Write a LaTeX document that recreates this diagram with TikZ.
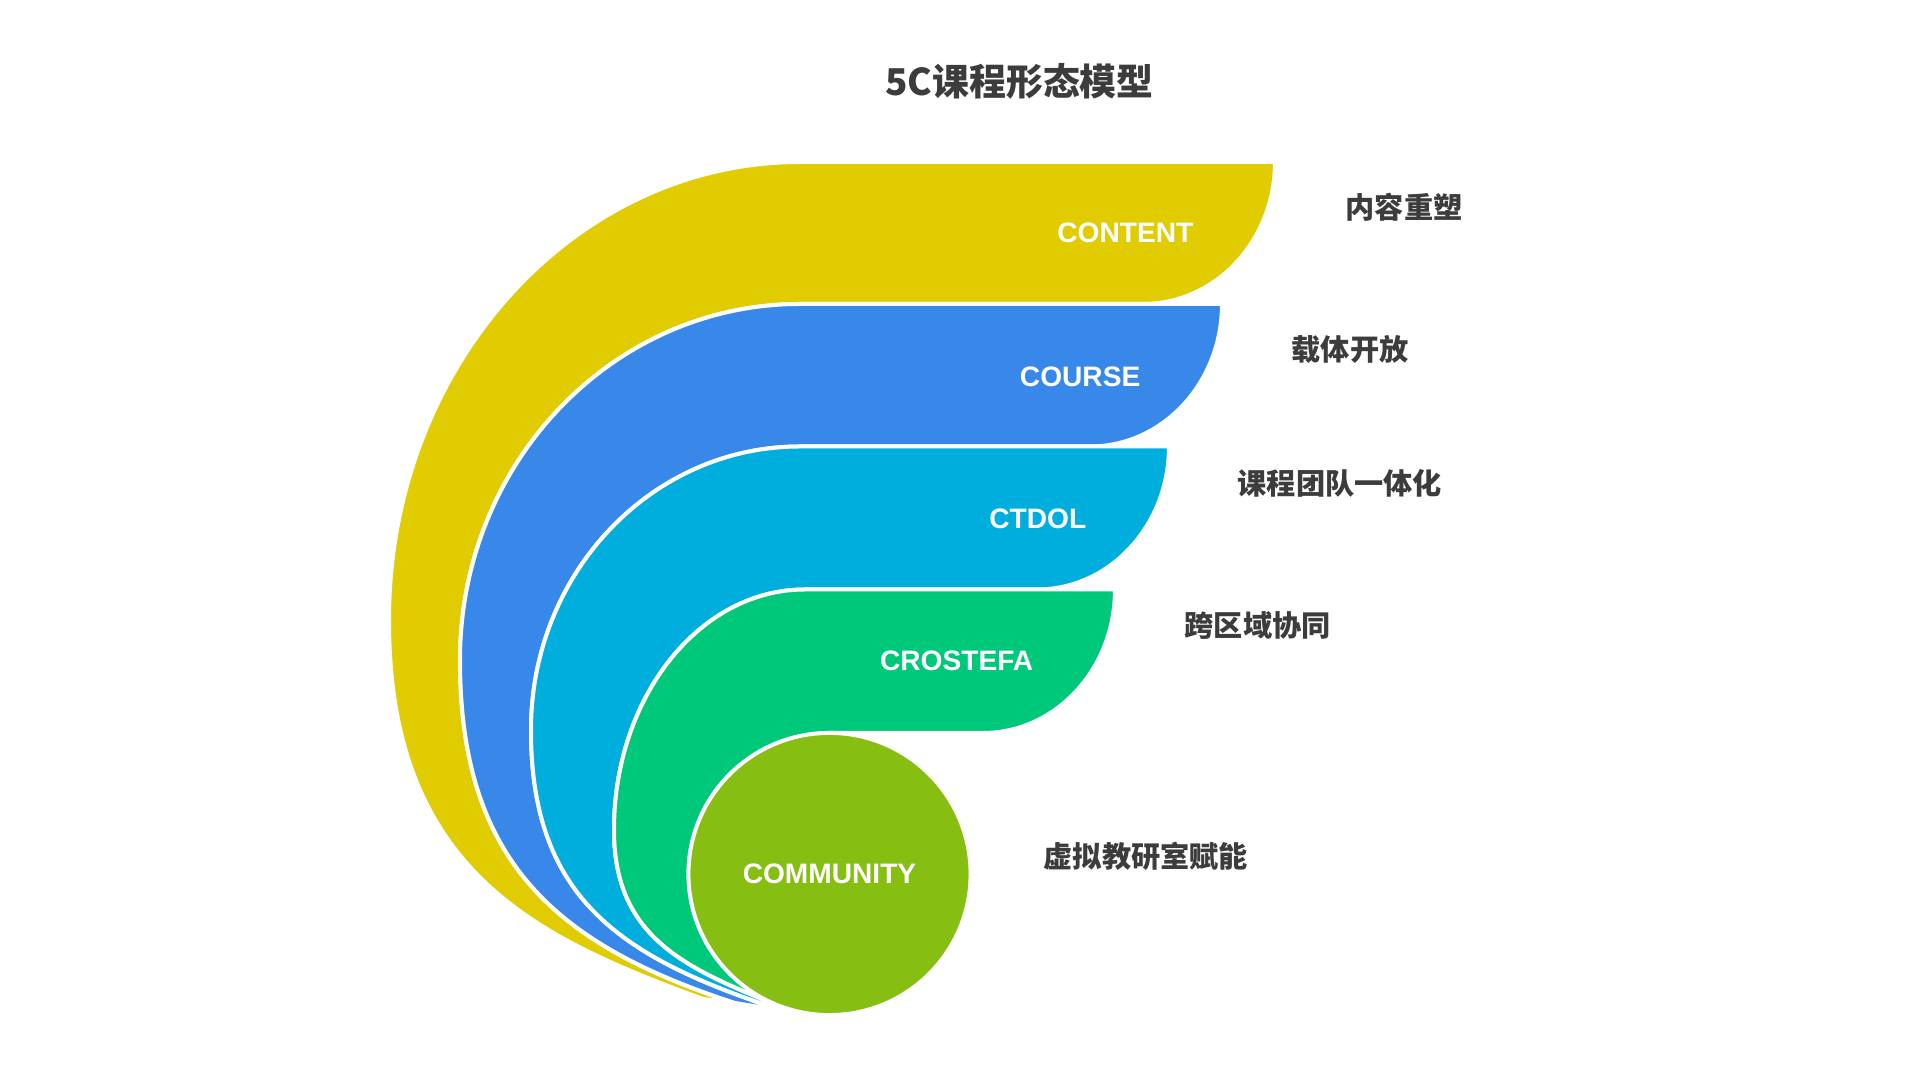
\documentclass[tikz,border=0pt]{standalone}
\usepackage{fontspec}
\setmainfont{Liberation Sans}
\newfontfamily\cjk{Noto Sans CJK SC}

\definecolor{yellowband}{HTML}{E0CC00}
\definecolor{blueband}{HTML}{3888EA}
\definecolor{cyanband}{HTML}{00AEDD}
\definecolor{greenband}{HTML}{00C87A}
\definecolor{oliveband}{HTML}{86BE12}
\definecolor{textgray}{HTML}{3C3C3C}

\begin{document}
\begin{tikzpicture}[x=0.01cm, y=-0.01cm,
    band/.style={draw=white, line width=0.4mm, line join=round},
    tag/.style={text=white, font=\fontsize{8}{9}\selectfont\bfseries, anchor=east, inner sep=0pt},
    desc/.style={text=textgray, font=\cjk\fontsize{8.3}{10}\selectfont\bfseries, anchor=west, inner sep=0pt}]

	\useasboundingbox (0,0) rectangle (1920,1080);

	\node (title) at (1019.5,81.5) [text=textgray, font=\cjk\fontsize{10.5}{12}\selectfont\bfseries] {5C课程形态模型};

	\draw[band, fill=yellowband] (703,999) .. controls (534,937) and (389,870) .. (389,620)
		.. controls (389,367) and (573,162) .. (800,162) -- (1275,162)
		.. controls (1275,240.6) and (1215.9,304) .. (1143,304) -- (800,304)
		.. controls (612.2,304) and (460,463.4) .. (460,660)
		.. controls (460,860) and (554.3,944.3) .. (735,1003) -- cycle;

	\draw[band, fill=blueband] (735,1003) .. controls (554.3,944.3) and (460,860) .. (460,660)
		.. controls (460,463.4) and (612.2,304) .. (800,304) -- (1222,304)
		.. controls (1222,382.7) and (1162.9,446.5) .. (1090,446.5) -- (800,446.5)
		.. controls (651.4,446.5) and (531,573.4) .. (531,730)
		.. controls (531,900) and (622.3,958.5) .. (784,1011) -- cycle;

	\draw[band, fill=cyanband] (784,1011) .. controls (622.3,958.5) and (531,900) .. (531,730)
		.. controls (531,573.4) and (651.4,446.5) .. (800,446.5) -- (1169,446.5)
		.. controls (1169,525.4) and (1109.9,589.5) .. (1037,589.5) -- (805,589.5)
		.. controls (699.5,589.5) and (614,697.2) .. (614,830)
		.. controls (614,940) and (689.3,969.5) .. (782,1007) -- cycle;

	\draw[band, fill=greenband] (782,1007) .. controls (689.3,969.5) and (614,940) .. (614,830)
		.. controls (614,697.2) and (699.5,589.5) .. (805,589.5) -- (1115,589.5)
		.. controls (1115,668.8) and (1055.9,733) .. (983,733) -- (829.5,733) -- (829.5,874) -- cycle;

	\node (community) at (829.5,874) [circle, band, fill=oliveband, minimum size=2.82cm, inner sep=0pt,
		text=white, font=\fontsize{8}{9}\selectfont\bfseries] {COMMUNITY};

	\node (content) at (1194,233) [tag] {CONTENT};
	\node (course) at (1141,376.5) [tag] {COURSE};
	\node (ctdol) at (1087,518.5) [tag] {CTDOL};
	\node (crostefa) at (1034,661) [tag] {CROSTEFA};

	\node (reshape) at (1345,207.5) [desc] {内容重塑};
	\node (open) at (1291,349) [desc] {载体开放};
	\node (team) at (1237,483.5) [desc] {课程团队一体化};
	\node (region) at (1184,625.5) [desc] {跨区域协同};
	\node (virtual) at (1043,856.5) [desc] {虚拟教研室赋能};
\end{tikzpicture}
\end{document}
